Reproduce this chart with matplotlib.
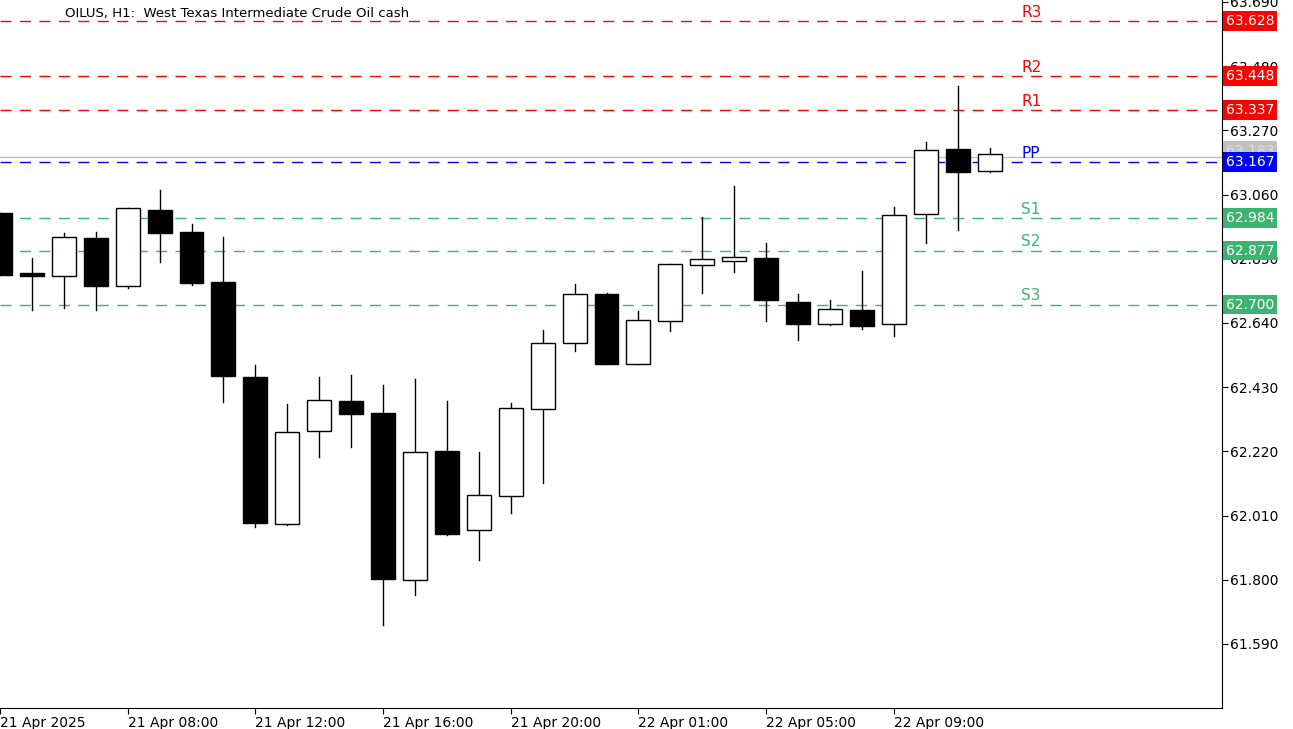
import matplotlib
matplotlib.use("Agg")
import matplotlib.pyplot as plt

# OHLC per hourly bar
opens = [63.000, 62.804, 62.794, 62.918, 62.761, 63.010, 62.938, 62.774, 62.463, 61.983,
         62.287, 62.385, 62.346, 61.799, 62.221, 61.963, 62.074, 62.359, 62.574, 62.735,
         62.506, 62.647, 62.830, 62.843, 62.853, 62.709, 62.637, 62.683, 62.637, 62.997,
         63.209, 63.137]
highs = [63.000, 62.853, 62.934, 62.938, 63.016, 63.075, 62.964, 62.921, 62.503, 62.375,
         62.463, 62.470, 62.437, 62.457, 62.385, 62.218, 62.378, 62.617, 62.768, 62.738,
         62.679, 62.833, 62.987, 63.088, 62.902, 62.735, 62.715, 62.810, 63.019, 63.232,
         63.415, 63.212]
lows = [62.797, 62.683, 62.689, 62.683, 62.755, 62.840, 62.764, 62.382, 61.973, 61.979,
        62.202, 62.234, 61.652, 61.750, 61.947, 61.865, 62.019, 62.117, 62.548, 62.506,
        62.506, 62.614, 62.738, 62.807, 62.647, 62.584, 62.633, 62.620, 62.598, 62.902,
        62.944, 63.134]
closes = [62.797, 62.794, 62.921, 62.761, 63.016, 62.934, 62.771, 62.467, 61.986, 62.283,
          62.388, 62.342, 61.803, 62.218, 61.950, 62.078, 62.362, 62.574, 62.735, 62.506,
          62.650, 62.833, 62.849, 62.856, 62.715, 62.637, 62.686, 62.630, 62.993, 63.206,
          63.134, 63.193]

time_ticks = [0, 4, 8, 12, 16, 20, 24, 28]
time_labels = ["21 Apr 2025", "21 Apr 08:00", "21 Apr 12:00", "21 Apr 16:00",
               "21 Apr 20:00", "22 Apr 01:00", "22 Apr 05:00", "22 Apr 09:00"]
price_ticks = [63.690, 63.480, 63.270, 63.060, 62.850, 62.640, 62.430, 62.220, 62.010, 61.800, 61.590]

level_names = ["R3", "R2", "R1", "PP", "S1", "S2", "S3"]
level_values = [63.628, 63.448, 63.337, 63.167, 62.984, 62.877, 62.700]
level_colors = ["#ff0000", "#ff0000", "#ff0000", "#0000ff", "#3cb371", "#3cb371", "#3cb371"]
bid = 63.183

fig = plt.figure(figsize=(12.93, 7.29), dpi=100)
ax = fig.add_axes([0, 1 - 708 / 729, 1222 / 1293, 708 / 729])
ax.set_xlim(0.094, 0.094 + 1222 / 32)
ax.set_ylim(63.6965 - 708 * 0.003271, 63.6965)

for i, (o, h, l, c) in enumerate(zip(opens, highs, lows, closes)):
    ax.plot([i, i], [l, h], color="black", lw=1, zorder=3)
    face = "white" if c >= o else "black"
    ax.bar(i, max(abs(c - o), 0.004), bottom=min(o, c), width=0.75,
           facecolor=face, edgecolor="black", lw=1, zorder=4)

ax.axhline(bid, color="#c0c0c0", lw=1, zorder=1)
for name, val, col in zip(level_names, level_values, level_colors):
    ax.axhline(val, color=col, lw=1, dashes=(8, 6), zorder=2)
    ax.text(32.0, val + 0.004, name, color=col, fontsize=11, va="bottom", ha="left")
    ax.text(1.003, val, f"{val:.3f}", transform=ax.get_yaxis_transform(), color="white",
            fontsize=10, va="center", ha="left", zorder=10,
            bbox=dict(boxstyle="square,pad=0.2", fc=col, ec="none"))
ax.text(1.003, bid + 0.02, f"{bid:.3f}", transform=ax.get_yaxis_transform(), color="#dddddd",
        fontsize=10, va="center", ha="left", zorder=9,
        bbox=dict(boxstyle="square,pad=0.2", fc="#c0c0c0", ec="none"))

ax.set_yticks(price_ticks)
ax.set_yticklabels([f"{p:.3f}" for p in price_ticks])
ax.yaxis.tick_right()
ax.set_xticks(time_ticks)
ax.set_xticklabels(time_labels, ha="left")
ax.tick_params(axis="both", labelsize=10, length=4, direction="out", pad=2)
for s in ["top", "left"]:
    ax.spines[s].set_visible(False)

fig.text(65 / 1293, 1 - 14 / 729, "OILUS, H1:  West Texas Intermediate Crude Oil cash",
         fontsize=9.5, va="center", ha="left")

fig.savefig("out.png", dpi=100)
